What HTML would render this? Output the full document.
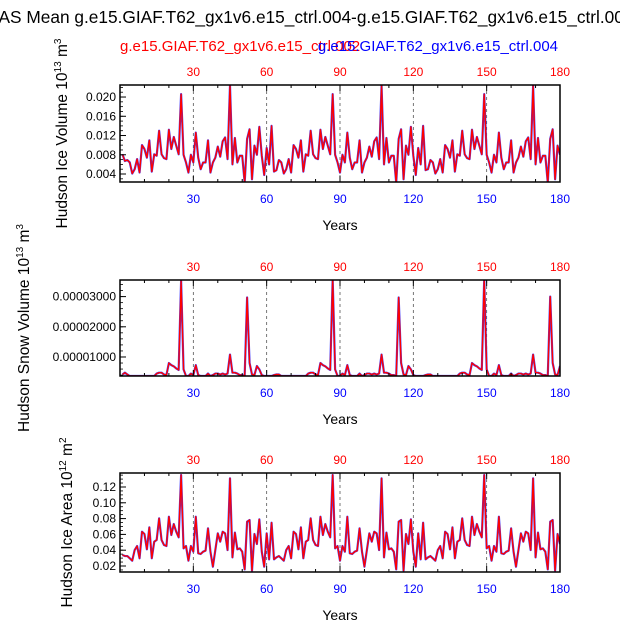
<!DOCTYPE html>
<html><head><meta charset="utf-8">
<style>
html,body{margin:0;padding:0;background:#fff;}
svg{display:block;font-family:"Liberation Sans",sans-serif;}
</style></head>
<body>
<svg id="chart" width="620" height="621" viewBox="0 0 620 621" xmlns="http://www.w3.org/2000/svg">
<text x="316" y="23" text-anchor="middle" font-size="17.3" fill="#000">AS Mean g.e15.GIAF.T62_gx1v6.e15_ctrl.004-g.e15.GIAF.T62_gx1v6.e15_ctrl.002</text>
<text x="120" y="51" font-size="15" fill="#ff0000">g.e15.GIAF.T62_gx1v6.e15_ctrl.002</text>
<text x="558" y="51" text-anchor="end" font-size="15" fill="#0000ff">g.e15.GIAF.T62_gx1v6.e15_ctrl.004</text>
</svg>
<script>
var years = [];
for (var i = 1; i <= 180; i++) years.push(i);
var xTicks = [30, 60, 90, 120, 150, 180];
var xTickLabels = ["30", "60", "90", "120", "150", "180"];

var iceVolume = [0.0081,0.0067,0.0069,0.0064,0.0041,0.0050,0.0071,0.0043,0.0100,0.0092,0.0074,0.0110,0.0045,0.0081,0.0078,0.0130,0.0081,0.0073,0.0071,0.0132,0.0092,0.0117,0.0099,0.0081,0.0206,0.0080,0.0064,0.0043,0.0080,0.0064,0.0126,0.0074,0.0050,0.0064,0.0064,0.0110,0.0043,0.0064,0.0074,0.0097,0.0076,0.0108,0.0116,0.0071,0.0224,0.0060,0.0115,0.0064,0.0078,0.0078,0.0022,0.0113,0.0133,0.0029,0.0099,0.0080,0.0138,0.0078,0.0038,0.0094,0.0060,0.0140,
0.0045,0.0048,0.0069,0.0064,0.0041,0.0050,0.0071,0.0043,0.0100,0.0092,0.0074,0.0110,0.0045,0.0081,0.0078,0.0130,0.0081,0.0073,0.0071,0.0132,0.0092,0.0117,0.0099,0.0081,0.0206,0.0080,0.0064,0.0043,0.0080,0.0064,0.0126,0.0074,0.0050,0.0064,0.0064,0.0110,0.0043,0.0064,0.0074,0.0097,0.0076,0.0108,0.0116,0.0071,0.0224,0.0060,0.0115,0.0064,0.0078,0.0078,0.0022,0.0113,0.0133,0.0029,0.0099,0.0080,0.0138,0.0078,0.0038,0.0094,0.0060,0.0140,
0.0048,0.0050,0.0069,0.0064,0.0041,0.0050,0.0071,0.0043,0.0100,0.0092,0.0074,0.0110,0.0045,0.0081,0.0078,0.0130,0.0081,0.0073,0.0071,0.0132,0.0092,0.0117,0.0099,0.0081,0.0206,0.0080,0.0064,0.0043,0.0080,0.0064,0.0126,0.0074,0.0050,0.0064,0.0064,0.0110,0.0043,0.0064,0.0074,0.0097,0.0076,0.0108,0.0116,0.0071,0.0224,0.0060,0.0115,0.0064,0.0078,0.0078,0.0022,0.0113,0.0133,0.0029,0.0099,0.0080];

var snowVolume = [0.42,0.48,0.42,0.37,0.37,0.37,0.37,0.37,0.37,0.37,0.37,0.37,0.37,0.37,0.45,0.48,0.48,0.42,0.40,0.80,0.73,0.69,0.62,0.57,3.52,0.59,0.37,0.37,0.45,0.40,0.73,0.40,0.37,0.37,0.37,0.45,0.37,0.40,0.45,0.45,0.42,0.45,0.42,0.45,1.08,0.48,0.48,0.45,0.40,0.40,0.37,2.97,0.80,0.42,0.40,0.70,0.59,0.40,0.37,0.37,0.37,0.37,
0.40,0.42,0.42,0.37,0.37,0.37,0.37,0.37,0.37,0.37,0.37,0.37,0.37,0.37,0.45,0.48,0.48,0.42,0.40,0.80,0.73,0.69,0.62,0.57,3.58,0.59,0.37,0.37,0.45,0.40,0.73,0.40,0.37,0.37,0.37,0.45,0.37,0.40,0.45,0.45,0.42,0.45,0.42,0.45,1.08,0.48,0.48,0.45,0.40,0.40,0.37,2.97,0.80,0.42,0.40,0.70,0.59,0.40,0.37,0.37,0.37,0.37,
0.40,0.42,0.42,0.37,0.37,0.37,0.37,0.37,0.37,0.37,0.37,0.37,0.37,0.37,0.45,0.48,0.48,0.42,0.40,0.80,0.73,0.69,0.62,0.57,3.58,0.59,0.37,0.37,0.45,0.40,0.73,0.40,0.37,0.37,0.37,0.45,0.37,0.40,0.45,0.45,0.42,0.45,0.42,0.45,1.08,0.48,0.48,0.45,0.40,0.40,0.37,3.00,0.80,0.42,0.40,0.70];

var iceArea = [0.0339,0.0326,0.0326,0.0297,0.0267,0.0402,0.0453,0.0297,0.0634,0.0605,0.0411,0.0689,0.0297,0.0508,0.0529,0.0803,0.0529,0.0466,0.0453,0.0824,0.0592,0.0731,0.0634,0.0563,0.1352,0.0423,0.0453,0.0267,0.0453,0.0381,0.0824,0.0360,0.0352,0.0381,0.0394,0.0677,0.0381,0.0191,0.0402,0.0613,0.0508,0.0634,0.0613,0.0402,0.1310,0.0309,0.0622,0.0411,0.0423,0.0381,0.0157,0.0761,0.0782,0.0141,0.0605,0.0478,0.0790,0.0381,0.0191,0.0613,0.0284,0.0748,
0.0284,0.0309,0.0326,0.0297,0.0267,0.0402,0.0453,0.0297,0.0634,0.0605,0.0411,0.0689,0.0297,0.0508,0.0529,0.0803,0.0529,0.0466,0.0453,0.0824,0.0592,0.0731,0.0634,0.0563,0.1352,0.0423,0.0453,0.0267,0.0453,0.0381,0.0824,0.0360,0.0352,0.0381,0.0394,0.0677,0.0381,0.0191,0.0402,0.0613,0.0508,0.0634,0.0613,0.0402,0.1310,0.0309,0.0622,0.0411,0.0423,0.0381,0.0157,0.0761,0.0782,0.0141,0.0605,0.0478,0.0790,0.0381,0.0191,0.0613,0.0284,0.0748,
0.0284,0.0309,0.0326,0.0297,0.0267,0.0402,0.0453,0.0297,0.0634,0.0605,0.0411,0.0689,0.0297,0.0508,0.0529,0.0803,0.0529,0.0466,0.0453,0.0824,0.0592,0.0731,0.0634,0.0563,0.1352,0.0423,0.0453,0.0267,0.0453,0.0381,0.0824,0.0360,0.0352,0.0381,0.0394,0.0677,0.0381,0.0191,0.0402,0.0613,0.0508,0.0634,0.0613,0.0402,0.1310,0.0309,0.0622,0.0411,0.0423,0.0381,0.0157,0.0761,0.0782,0.0141,0.0605,0.0478];

var volTicks = [0.004, 0.008, 0.012, 0.016, 0.020];
var volTickLabels = ["0.004", "0.008", "0.012", "0.016", "0.020"];
var snowTicks = [1, 2, 3];
var snowTickLabels = ["0.00001000", "0.00002000", "0.00003000"];
var areaTicks = [0.02, 0.04, 0.06, 0.08, 0.10, 0.12];
var areaTickLabels = ["0.02", "0.04", "0.06", "0.08", "0.10", "0.12"];

var NS = "http://www.w3.org/2000/svg";
var svg = document.getElementById("chart");
function mk(tag, attrs, parent) {
  var e = document.createElementNS(NS, tag);
  for (var k in attrs) e.setAttribute(k, attrs[k]);
  (parent || svg).appendChild(e);
  return e;
}

function panel(opt) {
  var L = 120, R = 560, T = opt.top, B = opt.bottom;
  var g = mk("g", {});
  
  
  function xs(v) { return L + (v - 0) / 180 * (R - L); }
  function ys(v) { return B - (v - opt.ymin) / (opt.ymax - opt.ymin) * (B - T); }
  for (var i = 0; i < xTicks.length - 1; i++) {
    var gl = mk("line", {x1: xs(xTicks[i]), x2: xs(xTicks[i]), y1: T, y2: B, stroke: "#555", "stroke-width": 0.8, "stroke-dasharray": "3,3"}, g);
    
    
  }
  var clipId = "clip-" + opt.name;
  var cp = mk("clipPath", {id: clipId}, g);
  mk("rect", {x: L, y: T, width: R - L, height: B - T}, cp);
  var pts = [];
  for (var j = 0; j < opt.data.length; j++) {
    pts.push(xs(years[j]).toFixed(2) + "," + ys(opt.data[j]).toFixed(2));
  }
  var lb = mk("polyline", {points: pts.join(" "), fill: "none", stroke: "#4040ff", "stroke-width": 2.2, "stroke-linejoin": "round", "clip-path": "url(#" + clipId + ")"}, g);
  
  
  var lr = mk("polyline", {points: pts.join(" "), fill: "none", stroke: "#ff0000", "stroke-width": 1.4, "stroke-linejoin": "round", "clip-path": "url(#" + clipId + ")"}, g);
  
  
  var fr = mk("rect", {x: L, y: T, width: R - L, height: B - T, fill: "none", stroke: "#000", "stroke-width": 1.5}, g);
  
  
  for (var m = 10; m < 180; m += 10) {
    var major = m % 30 === 0;
    var len = major ? 6 : 3;
    mk("line", {x1: xs(m), x2: xs(m), y1: B, y2: B - len, stroke: "#000", "stroke-width": 1}, g);
    mk("line", {x1: xs(m), x2: xs(m), y1: T, y2: T + len, stroke: "#000", "stroke-width": 1}, g);
  }
  for (var k = 0; k < xTicks.length; k++) {
    var tb = mk("text", {x: xs(xTicks[k]), y: B + 21, "text-anchor": "middle", "font-size": 12, fill: "#0000ff"}, g);
    tb.textContent = xTickLabels[k];
    
    
    var tt = mk("text", {x: xs(xTicks[k]), y: T - 9, "text-anchor": "middle", "font-size": 12, fill: "#ff0000"}, g);
    tt.textContent = xTickLabels[k];
    
    
  }
  var xt = mk("text", {x: 340, y: B + 48, "text-anchor": "middle", "font-size": 14, fill: "#000"}, g);
  xt.textContent = "Years";
  
  
  for (var v = opt.minorStart; v <= opt.ymax; v += opt.minorStep) {
    if (v < opt.ymin) continue;
    mk("line", {x1: L, x2: L + 3, y1: ys(v), y2: ys(v), stroke: "#000", "stroke-width": 0.8}, g);
  }
  for (var n = 0; n < opt.ticks.length; n++) {
    mk("line", {x1: L, x2: L + 6, y1: ys(opt.ticks[n]), y2: ys(opt.ticks[n]), stroke: "#000", "stroke-width": 1}, g);
    var yl = mk("text", {x: L - 4, y: ys(opt.ticks[n]) + 4, "text-anchor": "end", "font-size": 12, fill: "#000"}, g);
    yl.textContent = opt.tickLabels[n];
    
    
  }
  var yt = mk("text", {transform: "translate(" + opt.titleX + "," + ((T + B) / 2) + ") rotate(-90)", "text-anchor": "middle", "font-size": 15.5, fill: "#000"}, g);
  yt.innerHTML = opt.title;
  
  
}

panel({name: "ice-volume-panel", top: 85, bottom: 182, ymin: 0.00234, ymax: 0.0225, data: iceVolume,
  ticks: volTicks, tickLabels: volTickLabels, minorStart: 0.003, minorStep: 0.001, titleX: 67,
  title: 'Hudson Ice Volume 10<tspan dy="-6" font-size="10">13</tspan><tspan dy="6"> m</tspan><tspan dy="-6" font-size="10">3</tspan>'});
panel({name: "snow-volume-panel", top: 280, bottom: 376, ymin: 0.37, ymax: 3.55, data: snowVolume,
  ticks: snowTicks, tickLabels: snowTickLabels, minorStart: 0.4, minorStep: 0.2, titleX: 29,
  title: 'Hudson Snow Volume 10<tspan dy="-6" font-size="10">13</tspan><tspan dy="6"> m</tspan><tspan dy="-6" font-size="10">3</tspan>'});
panel({name: "ice-area-panel", top: 473, bottom: 572, ymin: 0.0124, ymax: 0.1377, data: iceArea,
  ticks: areaTicks, tickLabels: areaTickLabels, minorStart: 0.015, minorStep: 0.005, titleX: 72,
  title: 'Hudson Ice Area 10<tspan dy="-6" font-size="10">12</tspan><tspan dy="6"> m</tspan><tspan dy="-6" font-size="10">2</tspan>'});
</script>
</body></html>
